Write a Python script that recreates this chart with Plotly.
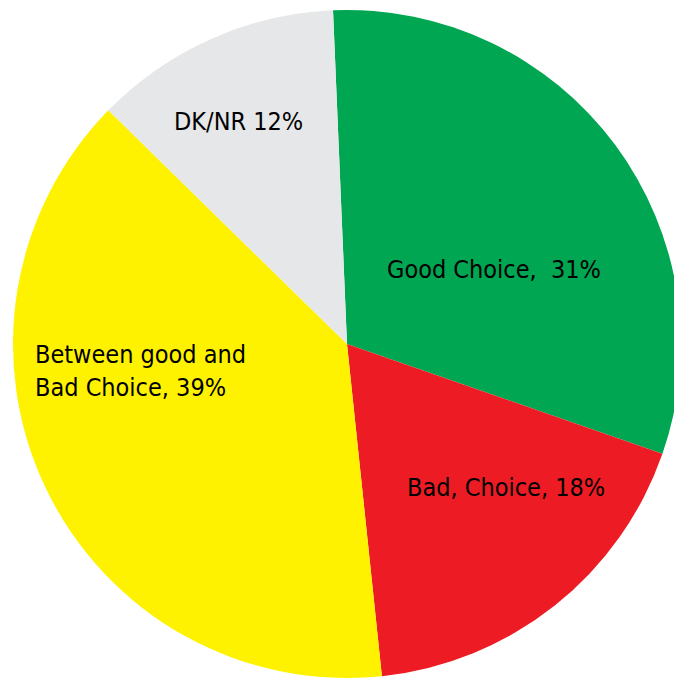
import plotly.graph_objects as go

labels = ["Good Choice", "Bad, Choice", "Between good and Bad Choice", "DK/NR"]
values = [31, 18, 39, 12]
colors = ["#00A651", "#ED1C24", "#FFF200", "#E6E7E8"]
label_texts = ["Good Choice,\u00a0\u00a031%", "Bad, Choice, 18%",
               "Between good and<br>Bad Choice, 39%", "DK/NR 12%"]

W, H = 700, 678
OFF = 0  # body margin removed by post_script

def px(x):
    return (x - OFF) / W

def py(y):
    return 1 - (y - OFF) / H

cx, cy, r = 347, 345, 335

fig = go.Figure(go.Pie(
    labels=labels, values=values, sort=False, direction="clockwise",
    rotation=-2.4, textinfo="none", hoverinfo="label+percent",
    marker=dict(colors=colors, line=dict(width=0)),
    domain=dict(x=[px(cx - r), px(cx + r)], y=[max(0, py(cy + r)), py(cy - r)]),
    showlegend=False,
))

label_pos = [(385, 270, "left"), (405, 487, "left"), (33, 371, "left"), (172, 122, "left")]
for t, (x, y, a) in zip(label_texts, label_pos):
    fig.add_annotation(text=t, x=px(x), y=py(y), xref="paper", yref="paper",
                       xanchor="left", yanchor="middle", align="left", showarrow=False,
                       font=dict(family="Liberation Sans Narrow, DejaVu Sans Condensed, sans-serif",
                                 size=25, color="#000000"))

fig.update_layout(width=W, height=H, margin=dict(l=0, r=0, t=0, b=0),
                  paper_bgcolor="white", plot_bgcolor="white")

fig.write_html("out.html", config={"displayModeBar": False},
               post_script="document.documentElement.style.overflow='hidden';document.body.style.overflow='hidden';document.body.style.margin='0';")
